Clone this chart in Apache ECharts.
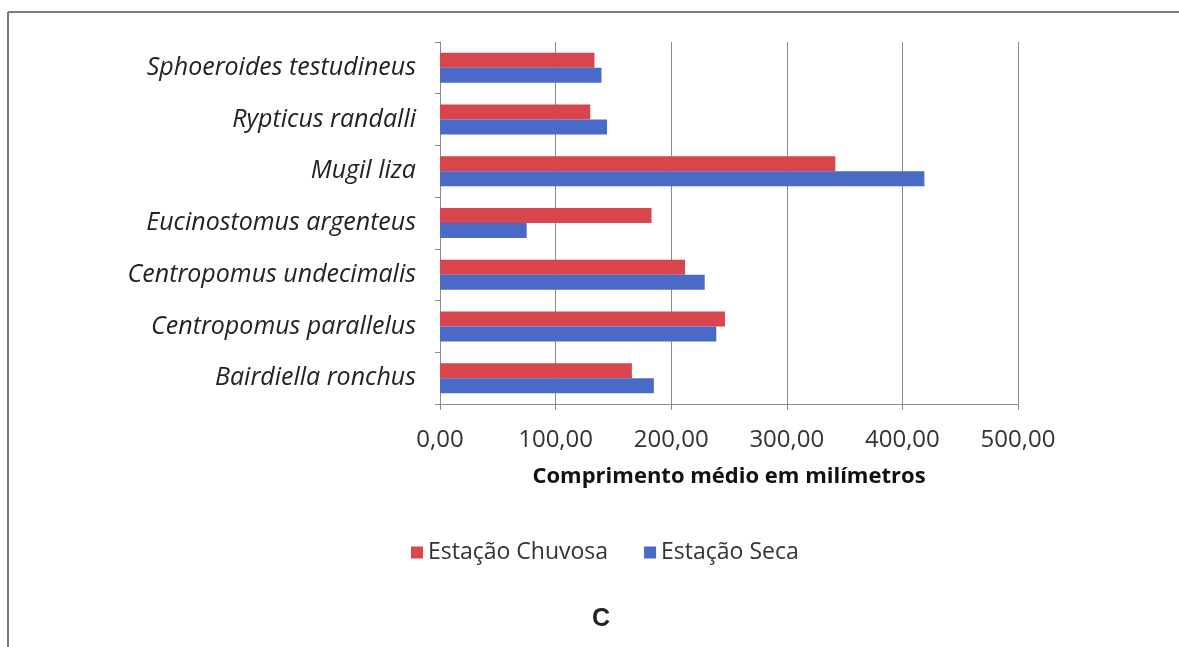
<!DOCTYPE html>
<html>
<head>
<meta charset="utf-8">
<script src="https://cdn.jsdelivr.net/npm/echarts@6/dist/echarts.min.js"></script>
<style>
  html, body { margin: 0; padding: 0; background: #fff; }
  #main { width: 1179px; height: 647px; }
</style>
</head>
<body>
<div id="main"></div>
<script>
// espécies, de cima para baixo
var species = [
  'Sphoeroides testudineus',
  'Rypticus randalli',
  'Mugil liza',
  'Eucinostomus argenteus',
  'Centropomus undecimalis',
  'Centropomus parallelus',
  'Bairdiella ronchus'
];
var seriesNames = ['Estação Chuvosa', 'Estação Seca'];
var chuvosa = [133.6, 130.0, 342.0, 183.0, 212.0, 246.5, 166.0];
var seca    = [139.7, 144.5, 419.0, 75.0, 229.0, 239.0, 185.0];
var xTicks = [0, 100, 200, 300, 400, 500];

var chart = echarts.init(document.getElementById('main'));

var labelFont = '"Open Sans", sans-serif';
var gridColor = '#8c8c8c';

var option = {
  animation: false,
  backgroundColor: '#fff',
  grid: { left: 440, right: 161, top: 42, bottom: 243 },
  legend: {
    data: seriesNames,
    left: 406,
    top: 536,
    icon: 'rect',
    itemWidth: 12,
    itemHeight: 12,
    itemGap: 36,
    textStyle: { fontFamily: labelFont, fontSize: 23, color: '#333' }
  },
  graphic: [
    // moldura
    { type: 'line', shape: { x1: 8, y1: 12, x2: 1179, y2: 12 }, style: { stroke: '#555', lineWidth: 1.5 } },
    { type: 'line', shape: { x1: 8, y1: 12, x2: 8, y2: 647 }, style: { stroke: '#777', lineWidth: 2 } },
    { type: 'text', left: 592, top: 607,
      style: { text: 'C', font: 'bold 25px "Liberation Sans", Arial, sans-serif', fill: '#222' } }
  ],
  xAxis: {
    type: 'value',
    min: 0,
    max: 500,
    interval: 100,
    name: 'Comprimento médio em milímetros',
    nameLocation: 'middle',
    nameGap: 62,
    nameTextStyle: { fontFamily: labelFont, fontSize: 22, fontWeight: 'bold', color: '#111' },
    axisLine: { show: true, lineStyle: { color: gridColor, width: 1 } },
    axisTick: { show: true, length: 6, lineStyle: { color: gridColor } },
    splitLine: { show: true, lineStyle: { color: gridColor, width: 1 } },
    axisLabel: {
      margin: 24,
      fontFamily: labelFont, fontSize: 24, color: '#333',
      formatter: function (v) { return xTicks.indexOf(v) >= 0 ? v.toFixed(2).replace('.', ',') : ''; }
    }
  },
  yAxis: {
    type: 'category',
    data: species,
    inverse: true,
    axisLine: { show: true, lineStyle: { color: gridColor, width: 1 } },
    axisTick: { show: true, length: 5, lineStyle: { color: gridColor } },
    axisLabel: {
      margin: 24,
      fontFamily: labelFont, fontSize: 25, fontStyle: 'italic', color: '#222'
    }
  },
  series: [
    {
      name: seriesNames[0],
      type: 'bar',
      data: chuvosa,
      barGap: '0%',
      barCategoryGap: '42%',
      itemStyle: { color: '#d9454c' }
    },
    {
      name: seriesNames[1],
      type: 'bar',
      data: seca,
      itemStyle: { color: '#4a6ac8' }
    }
  ]
};

chart.setOption(option);
</script>
</body>
</html>
